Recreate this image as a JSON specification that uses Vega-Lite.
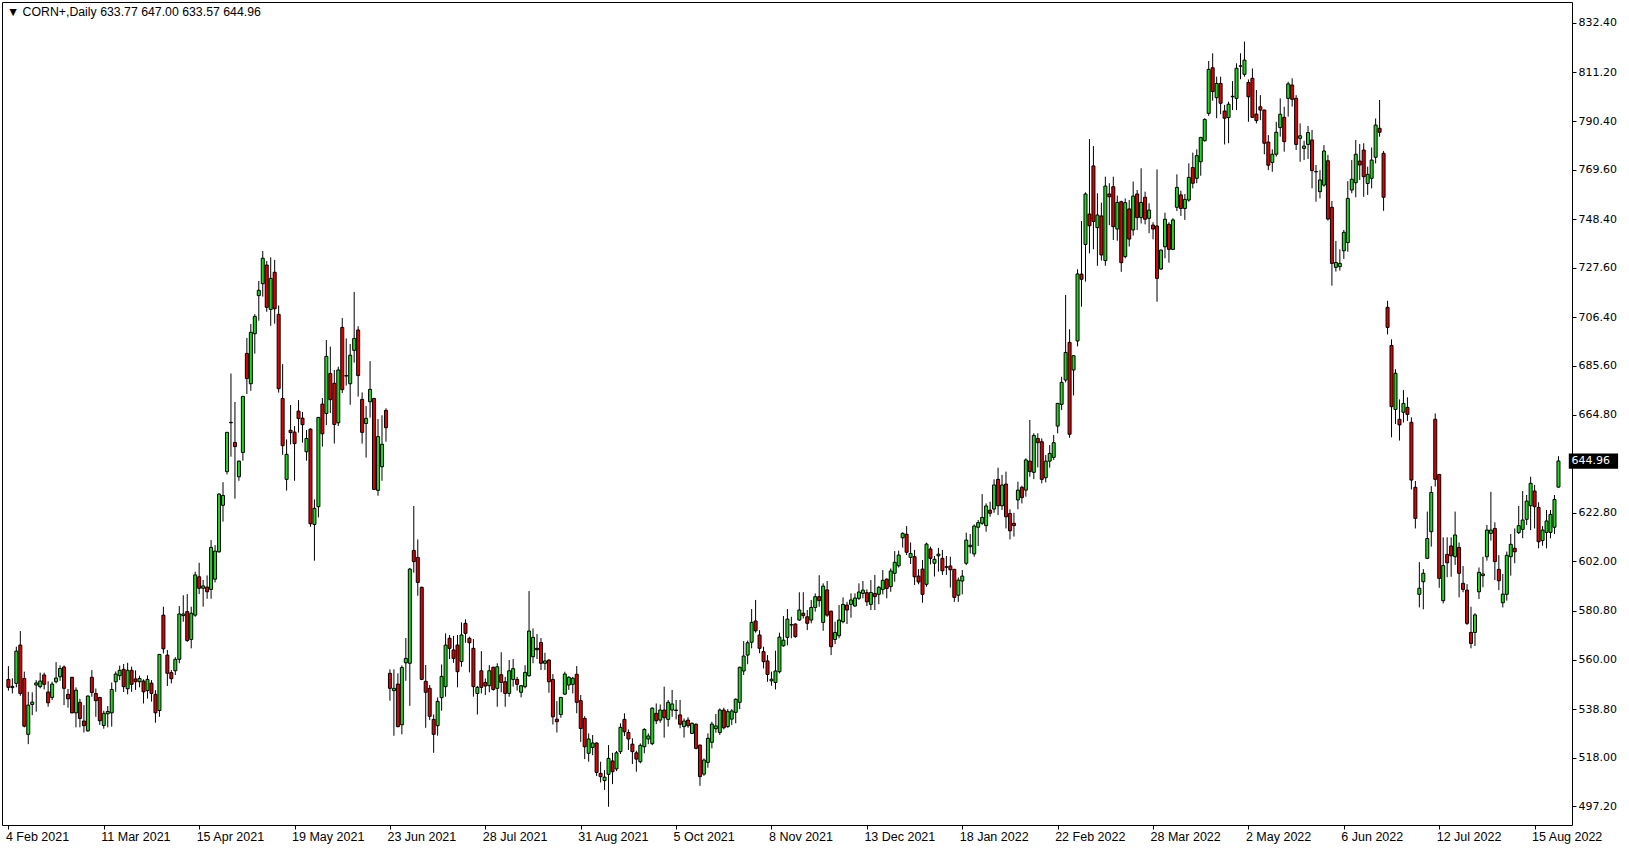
{
"$schema": "https://vega.github.io/schema/vega-lite/v6.json",
"width": 1570, "height": 823,
"autosize": "none",
"padding": {"left": 2, "top": 2, "right": 57, "bottom": 25},
"background": "white",
"config": {"view": {"stroke": "black", "strokeWidth": 1}},
"datasets": {"bars": [
{"i":0,"o":551.5,"h":557.2,"l":546.7,"c":548.1},
{"i":1,"o":548.0,"h":552.0,"l":545.5,"c":548.5},
{"i":2,"o":549.8,"h":565.5,"l":548.1,"c":563.6},
{"i":3,"o":566.2,"h":572.2,"l":544.5,"c":545.5},
{"i":4,"o":551.9,"h":554.8,"l":531.0,"c":531.5},
{"i":5,"o":528.0,"h":546.2,"l":523.8,"c":540.5},
{"i":6,"o":540.8,"h":546.0,"l":536.2,"c":541.8},
{"i":7,"o":549.1,"h":551.2,"l":537.7,"c":550.0},
{"i":8,"o":548.4,"h":554.4,"l":547.7,"c":550.8},
{"i":9,"o":553.4,"h":554.4,"l":547.2,"c":549.4},
{"i":10,"o":546.1,"h":550.7,"l":539.8,"c":541.5},
{"i":11,"o":543.8,"h":550.5,"l":542.7,"c":549.5},
{"i":12,"o":550.5,"h":558.9,"l":549.8,"c":552.1},
{"i":13,"o":552.6,"h":557.5,"l":550.9,"c":556.2},
{"i":14,"o":556.8,"h":557.5,"l":540.5,"c":547.7},
{"i":15,"o":545.1,"h":547.4,"l":539.4,"c":543.2},
{"i":16,"o":552.4,"h":552.6,"l":537.0,"c":537.2},
{"i":17,"o":537.2,"h":548.1,"l":531.0,"c":546.9},
{"i":18,"o":541.7,"h":543.2,"l":531.0,"c":534.8},
{"i":19,"o":533.7,"h":540.5,"l":528.8,"c":531.7},
{"i":20,"o":529.5,"h":544.6,"l":529.1,"c":544.4},
{"i":21,"o":552.4,"h":555.5,"l":544.1,"c":545.9},
{"i":22,"o":545.5,"h":547.6,"l":535.5,"c":542.4},
{"i":23,"o":543.8,"h":544.0,"l":532.0,"c":533.8},
{"i":24,"o":531.8,"h":538.1,"l":530.4,"c":537.0},
{"i":25,"o":536.8,"h":540.1,"l":531.0,"c":537.8},
{"i":26,"o":537.2,"h":550.2,"l":531.3,"c":547.2},
{"i":27,"o":550.5,"h":554.9,"l":546.2,"c":553.8},
{"i":28,"o":553.1,"h":557.4,"l":551.2,"c":555.4},
{"i":29,"o":555.8,"h":558.1,"l":546.1,"c":548.4},
{"i":30,"o":547.5,"h":558.6,"l":545.1,"c":555.4},
{"i":31,"o":555.4,"h":557.0,"l":546.2,"c":549.4},
{"i":32,"o":551.7,"h":555.4,"l":547.0,"c":550.5},
{"i":33,"o":550.5,"h":553.1,"l":548.1,"c":551.9},
{"i":34,"o":550.8,"h":551.5,"l":541.2,"c":546.2},
{"i":35,"o":546.7,"h":553.2,"l":543.3,"c":551.5},
{"i":36,"o":549.9,"h":551.2,"l":542.0,"c":545.5},
{"i":37,"o":545.1,"h":546.9,"l":533.0,"c":537.2},
{"i":38,"o":538.2,"h":562.4,"l":535.5,"c":562.2},
{"i":39,"o":579.0,"h":582.6,"l":562.6,"c":564.6},
{"i":40,"o":561.9,"h":564.1,"l":548.7,"c":554.1},
{"i":41,"o":554.4,"h":555.5,"l":549.8,"c":551.8},
{"i":42,"o":555.2,"h":561.0,"l":553.4,"c":560.1},
{"i":43,"o":560.1,"h":582.9,"l":558.4,"c":579.5},
{"i":44,"o":578.8,"h":587.5,"l":576.2,"c":579.5},
{"i":45,"o":580.5,"h":588.0,"l":567.6,"c":568.1},
{"i":46,"o":568.6,"h":582.6,"l":564.8,"c":579.8},
{"i":47,"o":579.0,"h":597.6,"l":578.3,"c":596.2},
{"i":48,"o":595.4,"h":601.4,"l":588.0,"c":590.5},
{"i":49,"o":590.5,"h":594.0,"l":582.6,"c":591.5},
{"i":50,"o":591.0,"h":596.0,"l":586.0,"c":589.0},
{"i":51,"o":590.0,"h":611.1,"l":586.0,"c":608.0},
{"i":52,"o":594.4,"h":609.0,"l":593.0,"c":606.4},
{"i":53,"o":606.1,"h":631.1,"l":605.7,"c":630.8},
{"i":54,"o":626.0,"h":635.9,"l":619.0,"c":630.2},
{"i":55,"o":640.4,"h":657.4,"l":639.2,"c":657.2},
{"i":56,"o":661.3,"h":682.4,"l":646.8,"c":661.5},
{"i":57,"o":652.9,"h":670.2,"l":628.8,"c":651.1},
{"i":58,"o":638.2,"h":645.1,"l":636.5,"c":644.9},
{"i":59,"o":648.6,"h":672.8,"l":645.1,"c":672.6},
{"i":60,"o":691.0,"h":697.6,"l":673.6,"c":680.2},
{"i":61,"o":678.0,"h":703.6,"l":675.0,"c":700.0},
{"i":62,"o":699.4,"h":707.8,"l":690.9,"c":706.8},
{"i":63,"o":715.7,"h":722.0,"l":705.0,"c":718.0},
{"i":64,"o":720.8,"h":734.8,"l":715.3,"c":731.7},
{"i":65,"o":728.8,"h":730.5,"l":708.8,"c":710.7},
{"i":66,"o":709.8,"h":732.1,"l":702.8,"c":723.1},
{"i":67,"o":725.7,"h":731.0,"l":703.7,"c":710.1},
{"i":68,"o":707.7,"h":711.5,"l":674.2,"c":675.9},
{"i":69,"o":671.7,"h":686.4,"l":647.6,"c":651.5},
{"i":70,"o":637.1,"h":654.2,"l":632.3,"c":647.8},
{"i":71,"o":658.1,"h":668.9,"l":652.0,"c":657.1},
{"i":72,"o":657.3,"h":659.9,"l":636.5,"c":652.4},
{"i":73,"o":666.3,"h":671.0,"l":657.1,"c":663.1},
{"i":74,"o":663.3,"h":665.9,"l":652.8,"c":660.5},
{"i":75,"o":648.9,"h":658.2,"l":645.1,"c":654.6},
{"i":76,"o":658.6,"h":658.9,"l":616.8,"c":618.1},
{"i":77,"o":617.8,"h":628.5,"l":602.3,"c":624.7},
{"i":78,"o":625.4,"h":663.8,"l":620.8,"c":663.6},
{"i":79,"o":669.3,"h":671.9,"l":651.1,"c":656.6},
{"i":80,"o":665.3,"h":696.7,"l":660.3,"c":689.7},
{"i":81,"o":682.4,"h":693.9,"l":665.5,"c":671.2},
{"i":82,"o":678.2,"h":683.9,"l":652.4,"c":660.6},
{"i":83,"o":661.3,"h":685.3,"l":659.9,"c":683.9},
{"i":84,"o":702.1,"h":706.1,"l":674.0,"c":675.5},
{"i":85,"o":681.3,"h":697.4,"l":677.2,"c":681.5},
{"i":86,"o":678.0,"h":695.0,"l":669.0,"c":690.2},
{"i":87,"o":692.3,"h":717.3,"l":687.0,"c":697.4},
{"i":88,"o":701.0,"h":702.6,"l":672.5,"c":681.5},
{"i":89,"o":671.3,"h":674.3,"l":652.4,"c":657.2},
{"i":90,"o":661.0,"h":668.5,"l":646.4,"c":663.2},
{"i":91,"o":670.3,"h":687.7,"l":663.5,"c":675.6},
{"i":92,"o":671.7,"h":672.0,"l":632.5,"c":632.8},
{"i":93,"o":632.4,"h":662.9,"l":630.1,"c":655.4},
{"i":94,"o":642.5,"h":664.5,"l":636.5,"c":652.1},
{"i":95,"o":666.6,"h":667.5,"l":653.2,"c":659.2},
{"i":96,"o":554.1,"h":555.8,"l":542.4,"c":547.7},
{"i":97,"o":546.7,"h":555.8,"l":527.4,"c":547.7},
{"i":98,"o":549.5,"h":554.1,"l":531.0,"c":531.3},
{"i":99,"o":532.1,"h":557.5,"l":528.0,"c":556.6},
{"i":100,"o":558.6,"h":569.2,"l":550.9,"c":560.5},
{"i":101,"o":558.4,"h":599.2,"l":540.2,"c":598.7},
{"i":102,"o":606.7,"h":625.7,"l":597.2,"c":601.9},
{"i":103,"o":603.7,"h":611.4,"l":587.3,"c":593.0},
{"i":104,"o":590.9,"h":591.2,"l":551.2,"c":551.5},
{"i":105,"o":550.7,"h":557.7,"l":530.8,"c":546.0},
{"i":106,"o":547.7,"h":549.1,"l":534.1,"c":535.7},
{"i":107,"o":534.4,"h":536.5,"l":520.1,"c":528.0},
{"i":108,"o":531.7,"h":543.8,"l":527.4,"c":542.1},
{"i":109,"o":543.7,"h":557.9,"l":538.1,"c":552.8},
{"i":110,"o":548.4,"h":571.2,"l":544.1,"c":566.2},
{"i":111,"o":569.1,"h":570.5,"l":560.2,"c":564.8},
{"i":112,"o":564.1,"h":570.1,"l":558.6,"c":560.5},
{"i":113,"o":566.2,"h":570.5,"l":548.1,"c":554.8},
{"i":114,"o":559.1,"h":575.9,"l":556.9,"c":570.5},
{"i":115,"o":575.5,"h":577.2,"l":567.2,"c":571.2},
{"i":116,"o":569.1,"h":569.8,"l":554.5,"c":567.2},
{"i":117,"o":564.8,"h":568.8,"l":544.1,"c":548.4},
{"i":118,"o":545.5,"h":548.7,"l":536.5,"c":548.1},
{"i":119,"o":555.2,"h":563.6,"l":545.5,"c":548.1},
{"i":120,"o":550.2,"h":551.9,"l":544.8,"c":548.7},
{"i":121,"o":548.8,"h":557.6,"l":546.0,"c":555.2},
{"i":122,"o":556.7,"h":556.9,"l":546.7,"c":547.2},
{"i":123,"o":547.7,"h":558.4,"l":539.8,"c":556.9},
{"i":124,"o":553.5,"h":563.1,"l":546.0,"c":550.2},
{"i":125,"o":550.5,"h":552.6,"l":539.8,"c":545.5},
{"i":126,"o":545.5,"h":559.8,"l":544.1,"c":555.2},
{"i":127,"o":551.5,"h":560.2,"l":548.4,"c":556.1},
{"i":128,"o":551.5,"h":552.6,"l":546.7,"c":549.4},
{"i":129,"o":546.0,"h":549.1,"l":543.8,"c":548.8},
{"i":130,"o":548.4,"h":557.6,"l":547.7,"c":554.5},
{"i":131,"o":553.1,"h":589.3,"l":552.6,"c":572.2},
{"i":132,"o":561.2,"h":573.3,"l":558.4,"c":569.5},
{"i":133,"o":564.8,"h":570.9,"l":560.2,"c":564.2},
{"i":134,"o":567.3,"h":569.2,"l":555.5,"c":558.4},
{"i":135,"o":558.4,"h":562.9,"l":555.5,"c":559.4},
{"i":136,"o":559.8,"h":560.1,"l":545.8,"c":550.5},
{"i":137,"o":551.5,"h":553.8,"l":532.2,"c":535.5},
{"i":138,"o":534.5,"h":542.2,"l":528.8,"c":533.4},
{"i":139,"o":536.5,"h":543.9,"l":535.1,"c":543.8},
{"i":140,"o":545.2,"h":554.8,"l":544.8,"c":553.8},
{"i":141,"o":549.1,"h":552.9,"l":547.0,"c":552.4},
{"i":142,"o":549.4,"h":552.6,"l":545.5,"c":552.0},
{"i":143,"o":553.7,"h":557.2,"l":537.0,"c":541.7},
{"i":144,"o":542.4,"h":544.8,"l":524.8,"c":530.5},
{"i":145,"o":534.8,"h":535.8,"l":517.4,"c":522.7},
{"i":146,"o":519.9,"h":528.4,"l":516.3,"c":526.0},
{"i":147,"o":522.4,"h":527.7,"l":519.1,"c":524.3},
{"i":148,"o":524.3,"h":524.5,"l":510.2,"c":511.7},
{"i":149,"o":511.3,"h":516.3,"l":507.4,"c":509.9},
{"i":150,"o":508.2,"h":512.7,"l":504.2,"c":509.7},
{"i":151,"o":510.9,"h":523.4,"l":497.0,"c":517.7},
{"i":152,"o":516.6,"h":520.1,"l":506.7,"c":512.0},
{"i":153,"o":513.2,"h":520.9,"l":512.3,"c":520.1},
{"i":154,"o":520.6,"h":532.7,"l":519.6,"c":531.0},
{"i":155,"o":534.4,"h":537.0,"l":527.3,"c":529.1},
{"i":156,"o":528.8,"h":530.1,"l":521.3,"c":526.0},
{"i":157,"o":523.8,"h":526.3,"l":515.3,"c":520.6},
{"i":158,"o":520.1,"h":521.0,"l":512.0,"c":517.4},
{"i":159,"o":516.3,"h":524.1,"l":515.6,"c":523.3},
{"i":160,"o":522.7,"h":530.6,"l":519.9,"c":530.1},
{"i":161,"o":526.0,"h":528.4,"l":523.8,"c":527.3},
{"i":162,"o":524.0,"h":539.5,"l":523.4,"c":539.2},
{"i":163,"o":537.0,"h":541.2,"l":532.4,"c":533.8},
{"i":164,"o":534.1,"h":540.8,"l":533.0,"c":538.4},
{"i":165,"o":538.4,"h":548.4,"l":526.6,"c":535.1},
{"i":166,"o":534.4,"h":542.7,"l":531.3,"c":541.7},
{"i":167,"o":538.4,"h":547.0,"l":535.5,"c":541.0},
{"i":168,"o":538.4,"h":542.7,"l":534.4,"c":538.2},
{"i":169,"o":536.3,"h":542.7,"l":530.6,"c":532.3},
{"i":170,"o":531.3,"h":534.8,"l":526.6,"c":533.7},
{"i":171,"o":534.1,"h":535.3,"l":530.8,"c":531.7},
{"i":172,"o":528.4,"h":533.1,"l":528.1,"c":532.7},
{"i":173,"o":532.3,"h":532.7,"l":521.6,"c":522.0},
{"i":174,"o":523.4,"h":523.6,"l":506.0,"c":509.9},
{"i":175,"o":511.0,"h":517.7,"l":510.3,"c":517.0},
{"i":176,"o":516.0,"h":528.4,"l":513.7,"c":526.3},
{"i":177,"o":524.6,"h":533.4,"l":522.0,"c":532.4},
{"i":178,"o":530.4,"h":536.7,"l":528.7,"c":531.6},
{"i":179,"o":528.8,"h":539.1,"l":527.7,"c":538.4},
{"i":180,"o":538.4,"h":539.4,"l":530.1,"c":530.8},
{"i":181,"o":531.3,"h":538.8,"l":530.8,"c":537.7},
{"i":182,"o":534.5,"h":538.8,"l":532.0,"c":538.0},
{"i":183,"o":537.4,"h":543.4,"l":532.7,"c":543.0},
{"i":184,"o":541.7,"h":556.9,"l":538.8,"c":556.7},
{"i":185,"o":555.1,"h":567.9,"l":553.4,"c":561.5},
{"i":186,"o":561.9,"h":568.1,"l":558.0,"c":567.2},
{"i":187,"o":567.4,"h":581.6,"l":564.8,"c":575.9},
{"i":188,"o":576.5,"h":585.5,"l":571.5,"c":572.3},
{"i":189,"o":570.5,"h":572.6,"l":562.7,"c":564.8},
{"i":190,"o":563.4,"h":565.5,"l":556.2,"c":559.1},
{"i":191,"o":559.4,"h":561.9,"l":550.5,"c":553.6},
{"i":192,"o":550.9,"h":554.8,"l":548.8,"c":551.6},
{"i":193,"o":550.2,"h":563.8,"l":547.2,"c":555.1},
{"i":194,"o":554.8,"h":571.5,"l":554.1,"c":569.6},
{"i":195,"o":565.9,"h":578.6,"l":565.5,"c":568.3},
{"i":196,"o":569.5,"h":581.6,"l":566.1,"c":577.3},
{"i":197,"o":574.8,"h":578.3,"l":569.1,"c":574.9},
{"i":198,"o":575.2,"h":575.5,"l":569.3,"c":569.8},
{"i":199,"o":576.9,"h":588.8,"l":576.6,"c":581.2},
{"i":200,"o":579.8,"h":588.8,"l":577.6,"c":578.8},
{"i":201,"o":578.3,"h":581.2,"l":572.6,"c":575.5},
{"i":202,"o":576.9,"h":585.5,"l":575.5,"c":582.3},
{"i":203,"o":582.3,"h":588.3,"l":580.5,"c":586.9},
{"i":204,"o":586.9,"h":596.1,"l":582.6,"c":585.2},
{"i":205,"o":575.9,"h":592.6,"l":572.3,"c":591.4},
{"i":206,"o":589.8,"h":593.6,"l":578.3,"c":579.0},
{"i":207,"o":580.7,"h":580.9,"l":561.9,"c":565.5},
{"i":208,"o":568.6,"h":576.2,"l":566.6,"c":571.6},
{"i":209,"o":570.2,"h":583.3,"l":569.1,"c":576.9},
{"i":210,"o":576.2,"h":586.6,"l":575.5,"c":583.6},
{"i":211,"o":583.3,"h":584.7,"l":575.2,"c":581.2},
{"i":212,"o":583.6,"h":588.3,"l":577.9,"c":585.5},
{"i":213,"o":582.9,"h":588.3,"l":582.6,"c":586.3},
{"i":214,"o":586.2,"h":592.6,"l":585.5,"c":588.9},
{"i":215,"o":588.3,"h":593.6,"l":586.2,"c":589.7},
{"i":216,"o":588.6,"h":590.0,"l":582.9,"c":584.7},
{"i":217,"o":583.6,"h":594.0,"l":581.2,"c":588.7},
{"i":218,"o":588.3,"h":596.2,"l":581.2,"c":586.9},
{"i":219,"o":587.9,"h":591.5,"l":583.7,"c":590.9},
{"i":220,"o":590.0,"h":598.3,"l":587.9,"c":593.9},
{"i":221,"o":594.4,"h":594.7,"l":586.2,"c":590.4},
{"i":222,"o":591.2,"h":599.0,"l":589.0,"c":597.9},
{"i":223,"o":596.9,"h":606.4,"l":593.3,"c":601.6},
{"i":224,"o":600.1,"h":606.6,"l":599.4,"c":604.7},
{"i":225,"o":612.1,"h":614.4,"l":607.9,"c":614.0},
{"i":226,"o":613.6,"h":617.1,"l":604.7,"c":605.9},
{"i":227,"o":603.7,"h":610.1,"l":600.9,"c":605.4},
{"i":228,"o":604.0,"h":606.9,"l":591.9,"c":595.4},
{"i":229,"o":595.7,"h":598.7,"l":592.2,"c":593.2},
{"i":230,"o":598.7,"h":602.6,"l":584.3,"c":587.9},
{"i":231,"o":592.2,"h":610.0,"l":591.2,"c":609.4},
{"i":232,"o":607.3,"h":608.3,"l":600.7,"c":603.3},
{"i":233,"o":601.2,"h":604.3,"l":595.5,"c":602.9},
{"i":234,"o":604.4,"h":607.8,"l":597.6,"c":605.1},
{"i":235,"o":603.3,"h":606.9,"l":596.2,"c":598.0},
{"i":236,"o":599.7,"h":604.3,"l":596.2,"c":599.5},
{"i":237,"o":600.0,"h":604.0,"l":590.8,"c":598.4},
{"i":238,"o":598.6,"h":598.8,"l":584.7,"c":586.6},
{"i":239,"o":587.5,"h":595.1,"l":584.7,"c":594.0},
{"i":240,"o":593.6,"h":598.3,"l":587.9,"c":595.7},
{"i":241,"o":601.2,"h":614.3,"l":600.4,"c":611.1},
{"i":242,"o":608.3,"h":613.7,"l":605.4,"c":608.9},
{"i":243,"o":605.2,"h":617.8,"l":604.0,"c":617.1},
{"i":244,"o":616.6,"h":619.7,"l":608.6,"c":618.6},
{"i":245,"o":618.3,"h":630.8,"l":617.6,"c":620.8},
{"i":246,"o":617.3,"h":626.8,"l":614.7,"c":625.7},
{"i":247,"o":623.9,"h":627.5,"l":621.1,"c":622.6},
{"i":248,"o":624.4,"h":637.1,"l":622.8,"c":634.7},
{"i":249,"o":637.1,"h":642.1,"l":621.8,"c":625.8},
{"i":250,"o":625.8,"h":639.0,"l":624.0,"c":634.7},
{"i":251,"o":635.1,"h":640.4,"l":616.1,"c":621.1},
{"i":252,"o":622.5,"h":624.3,"l":611.4,"c":615.1},
{"i":253,"o":618.3,"h":622.8,"l":612.6,"c":617.3},
{"i":254,"o":628.3,"h":636.1,"l":624.3,"c":632.5},
{"i":255,"o":633.7,"h":634.4,"l":626.8,"c":629.3},
{"i":256,"o":632.5,"h":646.1,"l":629.7,"c":645.4},
{"i":257,"o":644.9,"h":662.5,"l":638.2,"c":640.4},
{"i":258,"o":640.1,"h":656.8,"l":637.2,"c":655.9},
{"i":259,"o":654.6,"h":656.8,"l":642.2,"c":652.8},
{"i":260,"o":653.2,"h":654.6,"l":635.4,"c":637.1},
{"i":261,"o":637.8,"h":647.5,"l":635.8,"c":644.9},
{"i":262,"o":644.9,"h":651.8,"l":642.1,"c":648.2},
{"i":263,"o":646.5,"h":656.1,"l":645.4,"c":652.8},
{"i":264,"o":659.9,"h":669.8,"l":656.8,"c":669.6},
{"i":265,"o":669.2,"h":681.0,"l":666.8,"c":678.6},
{"i":266,"o":679.6,"h":716.0,"l":678.6,"c":691.4},
{"i":267,"o":695.7,"h":701.3,"l":654.9,"c":656.4},
{"i":268,"o":683.9,"h":690.2,"l":673.0,"c":690.0},
{"i":269,"o":696.3,"h":727.0,"l":694.0,"c":725.0},
{"i":270,"o":724.9,"h":747.6,"l":711.0,"c":722.7},
{"i":271,"o":737.6,"h":759.9,"l":721.7,"c":759.2},
{"i":272,"o":750.6,"h":782.7,"l":733.8,"c":745.6},
{"i":273,"o":771.2,"h":779.7,"l":735.5,"c":747.4},
{"i":274,"o":744.8,"h":759.5,"l":728.5,"c":750.2},
{"i":275,"o":749.8,"h":755.5,"l":730.7,"c":733.1},
{"i":276,"o":730.7,"h":766.6,"l":728.5,"c":762.6},
{"i":277,"o":759.2,"h":763.8,"l":745.9,"c":758.0},
{"i":278,"o":762.3,"h":766.6,"l":739.5,"c":745.2},
{"i":279,"o":744.2,"h":758.5,"l":739.2,"c":755.6},
{"i":280,"o":755.9,"h":756.3,"l":725.9,"c":729.8},
{"i":281,"o":732.4,"h":757.3,"l":731.7,"c":755.5},
{"i":282,"o":752.8,"h":756.6,"l":736.7,"c":739.9},
{"i":283,"o":743.8,"h":764.5,"l":741.4,"c":758.3},
{"i":284,"o":759.2,"h":760.9,"l":743.8,"c":749.1},
{"i":285,"o":749.1,"h":770.2,"l":746.6,"c":755.6},
{"i":286,"o":757.8,"h":760.2,"l":746.2,"c":748.4},
{"i":287,"o":748.8,"h":755.2,"l":742.4,"c":752.3},
{"i":288,"o":745.9,"h":747.1,"l":739.8,"c":744.2},
{"i":289,"o":745.5,"h":769.7,"l":713.1,"c":723.1},
{"i":290,"o":727.1,"h":735.4,"l":726.7,"c":735.2},
{"i":291,"o":736.6,"h":751.2,"l":731.7,"c":748.4},
{"i":292,"o":746.2,"h":747.1,"l":729.8,"c":735.5},
{"i":293,"o":735.5,"h":748.8,"l":735.2,"c":748.1},
{"i":294,"o":753.5,"h":767.6,"l":751.9,"c":762.0},
{"i":295,"o":758.8,"h":760.6,"l":749.8,"c":753.0},
{"i":296,"o":753.0,"h":759.2,"l":748.1,"c":756.9},
{"i":297,"o":756.6,"h":772.3,"l":755.9,"c":766.3},
{"i":298,"o":770.5,"h":776.9,"l":761.6,"c":763.8},
{"i":299,"o":765.9,"h":778.3,"l":763.8,"c":775.6},
{"i":300,"o":773.0,"h":783.6,"l":767.0,"c":783.4},
{"i":301,"o":782.0,"h":791.6,"l":781.6,"c":791.1},
{"i":302,"o":793.7,"h":816.1,"l":792.6,"c":812.5},
{"i":303,"o":813.2,"h":819.4,"l":799.1,"c":803.0},
{"i":304,"o":800.4,"h":809.4,"l":791.6,"c":806.5},
{"i":305,"o":806.5,"h":809.4,"l":793.3,"c":798.0},
{"i":306,"o":794.7,"h":797.3,"l":780.4,"c":791.6},
{"i":307,"o":791.9,"h":798.7,"l":780.9,"c":797.6},
{"i":308,"o":800.8,"h":807.5,"l":795.1,"c":801.0},
{"i":309,"o":800.1,"h":815.1,"l":795.1,"c":813.0},
{"i":310,"o":813.9,"h":819.4,"l":808.3,"c":814.0},
{"i":311,"o":810.4,"h":824.4,"l":809.4,"c":816.5},
{"i":312,"o":806.9,"h":808.2,"l":790.1,"c":800.8},
{"i":313,"o":808.7,"h":812.9,"l":791.8,"c":792.0},
{"i":314,"o":793.4,"h":803.7,"l":789.4,"c":790.6},
{"i":315,"o":796.5,"h":801.5,"l":790.8,"c":795.1},
{"i":316,"o":795.1,"h":795.3,"l":776.2,"c":780.9},
{"i":317,"o":781.4,"h":784.4,"l":769.4,"c":771.5},
{"i":318,"o":772.7,"h":778.3,"l":768.7,"c":776.2},
{"i":319,"o":776.2,"h":790.1,"l":775.2,"c":785.6},
{"i":320,"o":787.6,"h":800.1,"l":783.7,"c":793.3},
{"i":321,"o":792.0,"h":796.5,"l":777.3,"c":781.6},
{"i":322,"o":800.1,"h":807.2,"l":792.3,"c":806.3},
{"i":323,"o":805.8,"h":808.7,"l":796.6,"c":799.7},
{"i":324,"o":800.1,"h":801.5,"l":778.0,"c":780.4},
{"i":325,"o":783.0,"h":789.4,"l":773.0,"c":784.1},
{"i":326,"o":778.7,"h":782.0,"l":773.7,"c":779.7},
{"i":327,"o":780.4,"h":788.3,"l":774.2,"c":785.5},
{"i":328,"o":782.3,"h":786.6,"l":761.6,"c":769.2},
{"i":329,"o":768.8,"h":771.6,"l":755.9,"c":768.7},
{"i":330,"o":760.2,"h":769.4,"l":757.3,"c":765.2},
{"i":331,"o":763.0,"h":780.1,"l":762.3,"c":777.6},
{"i":332,"o":773.4,"h":775.9,"l":747.8,"c":748.5},
{"i":333,"o":753.5,"h":756.2,"l":720.0,"c":729.5},
{"i":334,"o":727.8,"h":739.1,"l":726.0,"c":729.9},
{"i":335,"o":728.1,"h":735.5,"l":726.4,"c":729.5},
{"i":336,"o":734.9,"h":743.8,"l":731.4,"c":742.8},
{"i":337,"o":738.4,"h":764.7,"l":734.5,"c":757.3},
{"i":338,"o":760.9,"h":773.7,"l":759.5,"c":765.5},
{"i":339,"o":764.0,"h":782.3,"l":757.8,"c":776.2},
{"i":340,"o":773.3,"h":780.6,"l":765.2,"c":771.6},
{"i":341,"o":778.0,"h":780.9,"l":758.0,"c":766.6},
{"i":342,"o":763.7,"h":770.9,"l":758.8,"c":767.6},
{"i":343,"o":765.9,"h":779.1,"l":761.6,"c":773.7},
{"i":344,"o":774.9,"h":791.5,"l":772.3,"c":788.7},
{"i":345,"o":787.3,"h":799.4,"l":783.7,"c":785.6},
{"i":346,"o":776.6,"h":777.6,"l":752.0,"c":757.8},
{"i":347,"o":710.7,"h":713.5,"l":699.1,"c":702.1},
{"i":348,"o":694.4,"h":697.0,"l":655.1,"c":668.2},
{"i":349,"o":667.0,"h":684.2,"l":660.8,"c":682.5},
{"i":350,"o":662.8,"h":671.3,"l":653.7,"c":660.4},
{"i":351,"o":665.8,"h":675.3,"l":661.4,"c":669.6},
{"i":352,"o":667.9,"h":672.2,"l":662.1,"c":664.9},
{"i":353,"o":661.5,"h":663.6,"l":632.8,"c":636.8},
{"i":354,"o":633.7,"h":636.4,"l":616.1,"c":620.4},
{"i":355,"o":587.9,"h":601.7,"l":582.3,"c":590.5},
{"i":356,"o":593.3,"h":598.7,"l":581.5,"c":596.9},
{"i":357,"o":603.3,"h":623.3,"l":603.0,"c":611.8},
{"i":358,"o":614.7,"h":634.2,"l":608.3,"c":631.5},
{"i":359,"o":662.8,"h":665.3,"l":634.0,"c":637.1},
{"i":360,"o":639.2,"h":639.4,"l":590.7,"c":594.7},
{"i":361,"o":585.2,"h":612.3,"l":584.0,"c":600.2},
{"i":362,"o":605.0,"h":612.3,"l":595.2,"c":601.4},
{"i":363,"o":608.6,"h":612.3,"l":595.4,"c":604.4},
{"i":364,"o":604.0,"h":623.3,"l":600.5,"c":613.3},
{"i":365,"o":608.0,"h":610.1,"l":586.6,"c":596.9},
{"i":366,"o":592.6,"h":600.0,"l":588.8,"c":590.0},
{"i":367,"o":589.7,"h":592.3,"l":574.8,"c":575.5},
{"i":368,"o":571.6,"h":582.6,"l":564.8,"c":566.9},
{"i":369,"o":571.6,"h":579.8,"l":565.8,"c":579.1},
{"i":370,"o":589.0,"h":599.4,"l":585.9,"c":597.3},
{"i":371,"o":595.9,"h":604.0,"l":590.9,"c":596.6},
{"i":372,"o":604.0,"h":617.6,"l":602.3,"c":615.4},
{"i":373,"o":614.0,"h":631.8,"l":610.9,"c":615.4},
{"i":374,"o":616.1,"h":618.7,"l":594.0,"c":601.9},
{"i":375,"o":598.6,"h":604.7,"l":589.7,"c":593.7},
{"i":376,"o":584.3,"h":596.6,"l":582.3,"c":588.0},
{"i":377,"o":587.9,"h":606.2,"l":585.2,"c":604.6},
{"i":378,"o":604.0,"h":613.7,"l":595.9,"c":609.3},
{"i":379,"o":607.6,"h":616.1,"l":601.2,"c":606.1},
{"i":380,"o":614.3,"h":625.7,"l":613.7,"c":617.3},
{"i":381,"o":615.7,"h":632.1,"l":611.9,"c":619.7},
{"i":382,"o":620.0,"h":630.4,"l":617.6,"c":627.8},
{"i":383,"o":625.8,"h":638.2,"l":615.4,"c":635.4},
{"i":384,"o":632.1,"h":634.7,"l":616.1,"c":625.4},
{"i":385,"o":625.1,"h":627.3,"l":607.6,"c":610.4},
{"i":386,"o":610.9,"h":617.1,"l":608.7,"c":615.4},
{"i":387,"o":614.4,"h":624.0,"l":607.6,"c":619.3},
{"i":388,"o":614.4,"h":624.0,"l":611.9,"c":622.1},
{"i":389,"o":616.6,"h":630.4,"l":613.7,"c":628.5},
{"i":390,"o":633.77,"h":647.0,"l":633.57,"c":644.96}
]},
"layer": [
{"data": {"name": "bars"},
 "mark": {"type": "rule", "color": "black", "strokeWidth": 1},
 "encoding": {
  "x": {"field": "i", "type": "quantitative", "scale": {"domain": [-0.35, 392.15], "nice": false, "zero": false},
   "axis": {"values": [0,24,48,72,96,120,144,168,192,216,240,264,288,312,336,360,384],
    "labelExpr": "['4 Feb 2021','11 Mar 2021','15 Apr 2021','19 May 2021','23 Jun 2021','28 Jul 2021','31 Aug 2021','5 Oct 2021','8 Nov 2021','13 Dec 2021','18 Jan 2022','22 Feb 2022','28 Mar 2022','2 May 2022','6 Jun 2022','12 Jul 2022','15 Aug 2022'][round(datum.value/24)]",
    "labelAlign": "left", "labelBaseline": "top", "labelPadding": 1, "labelOffset": -3, "labelFont": "Liberation Sans", "labelFontSize": 12.5, "labelColor": "black", "labelFlush": false, "labelOverlap": false, "labelBound": false,
    "tickSize": 4, "tickColor": "black", "domain": false, "grid": false, "title": null}},
  "y": {"field": "l", "type": "quantitative", "scale": {"domain": [489.21, 841.34], "nice": false, "zero": false},
   "axis": {"orient": "right", "values": [497.2,518.0,538.8,560.0,580.8,602.0,622.8,664.8,685.6,706.4,727.6,748.4,769.6,790.4,811.2,832.4],
    "format": ".2f", "labelAlign": "left", "labelBaseline": "middle", "labelPadding": 2, "labelFont": "DejaVu Sans", "labelFontSize": 11, "labelColor": "black", "labelFlush": false, "labelOverlap": false,
    "tickSize": 4, "tickColor": "black", "domain": false, "grid": false, "title": null}},
  "y2": {"field": "h"}
 }},
{"data": {"name": "bars"},
 "mark": {"type": "bar", "width": 3, "stroke": "black", "strokeWidth": 1},
 "encoding": {
  "x": {"field": "i", "type": "quantitative"},
  "y": {"field": "o", "type": "quantitative"},
  "y2": {"field": "c"},
  "fill": {"condition": {"test": "datum.c >= datum.o", "value": "#1ed81e"}, "value": "#e00000"}
 }},
{"data": {"values": [{}]},
 "mark": {"type": "rect", "fill": "black"},
 "encoding": {"x": {"datum": 392.6}, "x2": {"datum": 405.0}, "y": {"datum": 641.6}, "y2": {"datum": 648.2}}},
{"data": {"values": [{}]},
 "mark": {"type": "text", "color": "white", "align": "left", "baseline": "middle", "font": "DejaVu Sans", "fontSize": 11},
 "encoding": {"x": {"datum": 393.3}, "y": {"datum": 644.96}, "text": {"value": "644.96"}}},
{"data": {"values": [{}]},
 "mark": {"type": "text", "color": "black", "align": "left", "baseline": "middle", "font": "Liberation Sans", "fontSize": 12.3, "dx": 0, "dy": 10},
 "encoding": {"x": {"datum": -0.35}, "y": {"datum": 841.34}, "text": {"value": "▼ CORN+,Daily  633.77 647.00 633.57 644.96"}}}
]
}
